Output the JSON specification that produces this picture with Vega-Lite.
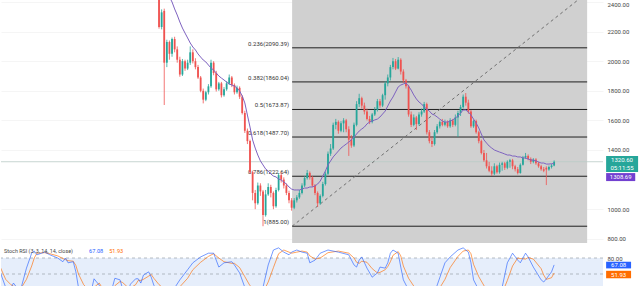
{
"$schema": "https://vega.github.io/schema/vega-lite/v6.json",
"padding": 0,
"background": "white",
"spacing": 1,
"config": {"view": {"stroke": null}, "font": "Roboto"},
"datasets": {
"candles": [
{"t":0,"o":2480,"h":2500,"l":2220,"c":2231},
{"t":1,"o":2231,"h":2350,"l":2215,"c":2330},
{"t":2,"o":2340,"h":2355,"l":1704,"c":1990},
{"t":3,"o":1990,"h":2145,"l":1960,"c":2130},
{"t":4,"o":2130,"h":2140,"l":2010,"c":2050,"ma":2434},
{"t":5,"o":2050,"h":2160,"l":2030,"c":2150,"ma":2400},
{"t":6,"o":2150,"h":2165,"l":2060,"c":2080,"ma":2353},
{"t":7,"o":2080,"h":2100,"l":1990,"c":2010,"ma":2312},
{"t":8,"o":2010,"h":2030,"l":1895,"c":1910,"ma":2265},
{"t":9,"o":1910,"h":2015,"l":1900,"c":2000,"ma":2224},
{"t":10,"o":2000,"h":2010,"l":1935,"c":1950,"ma":2190},
{"t":11,"o":1950,"h":2010,"l":1940,"c":1990,"ma":2157},
{"t":12,"o":1990,"h":2100,"l":1975,"c":2060,"ma":2123},
{"t":13,"o":2060,"h":2080,"l":1985,"c":2000,"ma":2096},
{"t":14,"o":2000,"h":2020,"l":1945,"c":1960,"ma":2076},
{"t":15,"o":1960,"h":1975,"l":1880,"c":1890,"ma":2049},
{"t":16,"o":1890,"h":1900,"l":1790,"c":1800,"ma":2028},
{"t":17,"o":1800,"h":1815,"l":1715,"c":1740,"ma":2008},
{"t":18,"o":1740,"h":1800,"l":1730,"c":1790,"ma":1995},
{"t":19,"o":1790,"h":1845,"l":1775,"c":1830,"ma":1974},
{"t":20,"o":1830,"h":2010,"l":1820,"c":1990,"ma":1954},
{"t":21,"o":1990,"h":2000,"l":1905,"c":1920,"ma":1940},
{"t":22,"o":1920,"h":1935,"l":1795,"c":1810,"ma":1920},
{"t":23,"o":1810,"h":1860,"l":1800,"c":1850,"ma":1900},
{"t":24,"o":1850,"h":1860,"l":1755,"c":1770,"ma":1886},
{"t":25,"o":1770,"h":1825,"l":1760,"c":1810,"ma":1873},
{"t":26,"o":1810,"h":1865,"l":1800,"c":1850,"ma":1859},
{"t":27,"o":1850,"h":1910,"l":1840,"c":1890,"ma":1846},
{"t":28,"o":1890,"h":1900,"l":1825,"c":1840,"ma":1839},
{"t":29,"o":1840,"h":1850,"l":1775,"c":1790,"ma":1832},
{"t":30,"o":1790,"h":1835,"l":1780,"c":1820,"ma":1819},
{"t":31,"o":1820,"h":1830,"l":1745,"c":1760,"ma":1799},
{"t":32,"o":1760,"h":1770,"l":1640,"c":1650,"ma":1765},
{"t":33,"o":1650,"h":1665,"l":1515,"c":1530,"ma":1718},
{"t":34,"o":1530,"h":1545,"l":1440,"c":1460,"ma":1636},
{"t":35,"o":1460,"h":1470,"l":1240,"c":1250,"ma":1555},
{"t":36,"o":1250,"h":1260,"l":1060,"c":1110,"ma":1468},
{"t":37,"o":1110,"h":1130,"l":1000,"c":1040,"ma":1413},
{"t":38,"o":1040,"h":1180,"l":1030,"c":1160,"ma":1366},
{"t":39,"o":1160,"h":1175,"l":1090,"c":1120,"ma":1326},
{"t":40,"o":1120,"h":1130,"l":885,"c":960,"ma":1299},
{"t":41,"o":960,"h":1130,"l":950,"c":1100,"ma":1272},
{"t":42,"o":1100,"h":1175,"l":1090,"c":1150,"ma":1258},
{"t":43,"o":1150,"h":1165,"l":1080,"c":1110,"ma":1238},
{"t":44,"o":1110,"h":1120,"l":1000,"c":1020,"ma":1224},
{"t":45,"o":1020,"h":1145,"l":1010,"c":1130,"ma":1218},
{"t":46,"o":1130,"h":1245,"l":1120,"c":1230,"ma":1204},
{"t":47,"o":1230,"h":1250,"l":1180,"c":1200,"ma":1197},
{"t":48,"o":1200,"h":1215,"l":1140,"c":1160,"ma":1184},
{"t":49,"o":1160,"h":1175,"l":1095,"c":1110,"ma":1170},
{"t":50,"o":1110,"h":1125,"l":1040,"c":1060,"ma":1150},
{"t":51,"o":1060,"h":1075,"l":990,"c":1010,"ma":1136},
{"t":52,"o":1010,"h":1075,"l":1000,"c":1060,"ma":1130},
{"t":53,"o":1060,"h":1095,"l":1045,"c":1080,"ma":1130},
{"t":54,"o":1080,"h":1130,"l":1070,"c":1110,"ma":1130},
{"t":55,"o":1110,"h":1175,"l":1100,"c":1160,"ma":1136},
{"t":56,"o":1160,"h":1225,"l":1150,"c":1210,"ma":1143},
{"t":57,"o":1210,"h":1265,"l":1200,"c":1245,"ma":1143},
{"t":58,"o":1245,"h":1255,"l":1200,"c":1215,"ma":1150},
{"t":59,"o":1215,"h":1225,"l":1150,"c":1160,"ma":1150},
{"t":60,"o":1160,"h":1170,"l":1095,"c":1110,"ma":1157},
{"t":61,"o":1110,"h":1120,"l":1015,"c":1040,"ma":1170},
{"t":62,"o":1040,"h":1100,"l":1030,"c":1090,"ma":1190},
{"t":63,"o":1090,"h":1185,"l":1080,"c":1170,"ma":1224},
{"t":64,"o":1170,"h":1255,"l":1160,"c":1240,"ma":1258},
{"t":65,"o":1240,"h":1390,"l":1230,"c":1375,"ma":1299},
{"t":66,"o":1375,"h":1440,"l":1360,"c":1410,"ma":1326},
{"t":67,"o":1410,"h":1585,"l":1400,"c":1570,"ma":1353},
{"t":68,"o":1570,"h":1610,"l":1540,"c":1590,"ma":1373},
{"t":69,"o":1590,"h":1600,"l":1510,"c":1530,"ma":1393},
{"t":70,"o":1530,"h":1595,"l":1520,"c":1580,"ma":1413},
{"t":71,"o":1580,"h":1615,"l":1520,"c":1600,"ma":1427},
{"t":72,"o":1600,"h":1610,"l":1520,"c":1540,"ma":1440},
{"t":73,"o":1540,"h":1560,"l":1360,"c":1470,"ma":1454},
{"t":74,"o":1470,"h":1500,"l":1415,"c":1430,"ma":1468},
{"t":75,"o":1430,"h":1585,"l":1420,"c":1570,"ma":1488},
{"t":76,"o":1570,"h":1730,"l":1560,"c":1710,"ma":1508},
{"t":77,"o":1710,"h":1780,"l":1690,"c":1750,"ma":1528},
{"t":78,"o":1750,"h":1760,"l":1680,"c":1700,"ma":1542},
{"t":79,"o":1700,"h":1720,"l":1640,"c":1660,"ma":1555},
{"t":80,"o":1660,"h":1680,"l":1600,"c":1610,"ma":1576},
{"t":81,"o":1610,"h":1630,"l":1575,"c":1590,"ma":1589},
{"t":82,"o":1590,"h":1650,"l":1580,"c":1640,"ma":1596},
{"t":83,"o":1640,"h":1690,"l":1630,"c":1670,"ma":1603},
{"t":84,"o":1670,"h":1745,"l":1660,"c":1730,"ma":1609},
{"t":85,"o":1730,"h":1745,"l":1685,"c":1700,"ma":1623},
{"t":86,"o":1700,"h":1780,"l":1690,"c":1770,"ma":1643},
{"t":87,"o":1770,"h":1865,"l":1740,"c":1850,"ma":1663},
{"t":88,"o":1850,"h":1910,"l":1830,"c":1890,"ma":1697},
{"t":89,"o":1890,"h":1975,"l":1870,"c":1960,"ma":1731},
{"t":90,"o":1960,"h":2022,"l":1945,"c":2000,"ma":1758},
{"t":91,"o":2000,"h":2015,"l":1940,"c":1950,"ma":1792},
{"t":92,"o":1950,"h":2028,"l":1945,"c":2010,"ma":1826},
{"t":93,"o":2010,"h":2020,"l":1910,"c":1930,"ma":1839},
{"t":94,"o":1930,"h":1945,"l":1855,"c":1870,"ma":1846},
{"t":95,"o":1870,"h":1880,"l":1815,"c":1830,"ma":1853},
{"t":96,"o":1830,"h":1840,"l":1625,"c":1640,"ma":1832},
{"t":97,"o":1640,"h":1660,"l":1555,"c":1570,"ma":1805},
{"t":98,"o":1570,"h":1640,"l":1560,"c":1620,"ma":1772},
{"t":99,"o":1620,"h":1630,"l":1535,"c":1575,"ma":1745},
{"t":100,"o":1575,"h":1655,"l":1565,"c":1640,"ma":1724},
{"t":101,"o":1640,"h":1680,"l":1625,"c":1660,"ma":1711},
{"t":102,"o":1660,"h":1725,"l":1650,"c":1710,"ma":1690},
{"t":103,"o":1710,"h":1720,"l":1505,"c":1520,"ma":1677},
{"t":104,"o":1520,"h":1535,"l":1445,"c":1460,"ma":1663},
{"t":105,"o":1460,"h":1490,"l":1420,"c":1440,"ma":1643},
{"t":106,"o":1440,"h":1535,"l":1430,"c":1520,"ma":1636},
{"t":107,"o":1520,"h":1575,"l":1510,"c":1560,"ma":1623},
{"t":108,"o":1560,"h":1600,"l":1545,"c":1590,"ma":1609},
{"t":109,"o":1590,"h":1610,"l":1560,"c":1570,"ma":1596},
{"t":110,"o":1570,"h":1605,"l":1560,"c":1590,"ma":1589},
{"t":111,"o":1590,"h":1600,"l":1550,"c":1560,"ma":1589},
{"t":112,"o":1560,"h":1615,"l":1550,"c":1600,"ma":1596},
{"t":113,"o":1600,"h":1610,"l":1555,"c":1570,"ma":1603},
{"t":114,"o":1570,"h":1640,"l":1560,"c":1620,"ma":1616},
{"t":115,"o":1620,"h":1665,"l":1488,"c":1650,"ma":1630},
{"t":116,"o":1650,"h":1705,"l":1630,"c":1690,"ma":1650},
{"t":117,"o":1690,"h":1775,"l":1680,"c":1760,"ma":1670},
{"t":118,"o":1760,"h":1785,"l":1700,"c":1720,"ma":1670},
{"t":119,"o":1720,"h":1740,"l":1645,"c":1660,"ma":1657},
{"t":120,"o":1660,"h":1670,"l":1550,"c":1560,"ma":1636},
{"t":121,"o":1560,"h":1605,"l":1550,"c":1595,"ma":1609},
{"t":122,"o":1595,"h":1605,"l":1510,"c":1520,"ma":1582},
{"t":123,"o":1520,"h":1530,"l":1445,"c":1460,"ma":1549},
{"t":124,"o":1460,"h":1470,"l":1370,"c":1380,"ma":1508},
{"t":125,"o":1380,"h":1400,"l":1320,"c":1330,"ma":1468},
{"t":126,"o":1330,"h":1380,"l":1275,"c":1290,"ma":1447},
{"t":127,"o":1290,"h":1320,"l":1250,"c":1260,"ma":1427},
{"t":128,"o":1260,"h":1290,"l":1225,"c":1240,"ma":1413},
{"t":129,"o":1240,"h":1310,"l":1230,"c":1290,"ma":1400},
{"t":130,"o":1290,"h":1300,"l":1240,"c":1250,"ma":1393},
{"t":131,"o":1250,"h":1315,"l":1240,"c":1300,"ma":1386},
{"t":132,"o":1300,"h":1320,"l":1260,"c":1310,"ma":1380},
{"t":133,"o":1310,"h":1320,"l":1265,"c":1280,"ma":1373},
{"t":134,"o":1280,"h":1330,"l":1270,"c":1320,"ma":1366},
{"t":135,"o":1320,"h":1340,"l":1280,"c":1330,"ma":1366},
{"t":136,"o":1330,"h":1340,"l":1270,"c":1290,"ma":1359},
{"t":137,"o":1290,"h":1300,"l":1255,"c":1270,"ma":1359},
{"t":138,"o":1270,"h":1285,"l":1235,"c":1245,"ma":1353},
{"t":139,"o":1245,"h":1310,"l":1240,"c":1300,"ma":1353},
{"t":140,"o":1300,"h":1360,"l":1295,"c":1350,"ma":1346},
{"t":141,"o":1350,"h":1380,"l":1340,"c":1360,"ma":1346},
{"t":142,"o":1360,"h":1370,"l":1330,"c":1340,"ma":1339},
{"t":143,"o":1340,"h":1350,"l":1305,"c":1320,"ma":1332},
{"t":144,"o":1320,"h":1345,"l":1310,"c":1335,"ma":1332},
{"t":145,"o":1335,"h":1345,"l":1300,"c":1310,"ma":1326},
{"t":146,"o":1310,"h":1320,"l":1280,"c":1290,"ma":1319},
{"t":147,"o":1290,"h":1300,"l":1260,"c":1270,"ma":1312},
{"t":148,"o":1270,"h":1285,"l":1250,"c":1260,"ma":1312},
{"t":149,"o":1280,"h":1290,"l":1163,"c":1268,"ma":1305},
{"t":150,"o":1268,"h":1295,"l":1260,"c":1285,"ma":1305},
{"t":151,"o":1285,"h":1305,"l":1275,"c":1295,"ma":1307},
{"t":152,"o":1295,"h":1330,"l":1290,"c":1320.6,"ma":1308.69}
],
"fib": [
{"p":2090.39,"label":"0.236(2090.39)"},
{"p":1860.04,"label":"0.382(1860.04)"},
{"p":1673.87,"label":"0.5(1673.87)"},
{"p":1487.70,"label":"0.618(1487.70)"},
{"p":1222.64,"label":"0.786(1222.64)"},
{"p":885.00,"label":"1(885.00)"}
],
"trend": [{"t":51.2,"p":885},{"t":164.7,"p":2462.7}],
"stoch": [
{"t":-61,"k":52,"d":62},{"t":-59,"k":25,"d":40},{"t":-57,"k":24,"d":30},{"t":-56,"k":33,"d":27},{"t":-54,"k":20,"d":26},{"t":-53,"k":25,"d":24},{"t":-51,"k":61,"d":40},{"t":-49,"k":89,"d":65},{"t":-48,"k":93,"d":80},{"t":-47,"k":86,"d":89},{"t":-44,"k":91,"d":90},{"t":-42,"k":86,"d":88},{"t":-39,"k":80,"d":84},{"t":-37,"k":73,"d":79},{"t":-36,"k":80,"d":77},{"t":-35,"k":71,"d":75},{"t":-33,"k":73,"d":74},{"t":-32,"k":54,"d":66},{"t":-31,"k":25,"d":50},{"t":-29,"k":10,"d":30},{"t":-26,"k":20,"d":15},{"t":-25,"k":41,"d":25},{"t":-23,"k":29,"d":33},{"t":-22,"k":10,"d":25},{"t":-20,"k":10,"d":15},{"t":-18,"k":24,"d":15},{"t":-17,"k":42,"d":28},{"t":-15,"k":39,"d":36},{"t":-14,"k":22,"d":34},{"t":-12,"k":16,"d":25},{"t":-11,"k":31,"d":24},{"t":-9,"k":41,"d":30},{"t":-8,"k":41,"d":38},{"t":-7,"k":33,"d":38},{"t":-6,"k":48,"d":40},{"t":-4,"k":54,"d":46},{"t":-3,"k":44,"d":49},{"t":-2,"k":29,"d":42},{"t":0,"k":16,"d":30},{"t":3,"k":10,"d":18},{"t":6,"k":24,"d":15},{"t":8,"k":39,"d":26},{"t":11,"k":58,"d":42},{"t":13,"k":71,"d":58},{"t":16,"k":82,"d":72},{"t":19,"k":89,"d":83},{"t":21,"k":89,"d":88},{"t":23,"k":63,"d":80},{"t":25,"k":71,"d":73},{"t":28,"k":73,"d":70},{"t":29,"k":67,"d":70},{"t":31,"k":52,"d":62},{"t":33,"k":25,"d":45},{"t":35,"k":10,"d":28},{"t":38,"k":10,"d":14},{"t":40,"k":25,"d":15},{"t":42,"k":67,"d":35},{"t":44,"k":95,"d":62},{"t":46,"k":99,"d":88},{"t":48,"k":91,"d":95},{"t":50,"k":86,"d":91},{"t":51,"k":91,"d":89},{"t":53,"k":95,"d":91},{"t":55,"k":91,"d":93},{"t":57,"k":89,"d":91},{"t":58,"k":71,"d":84},{"t":60,"k":76,"d":78},{"t":62,"k":89,"d":80},{"t":65,"k":95,"d":90},{"t":69,"k":91,"d":93},{"t":73,"k":86,"d":89},{"t":75,"k":67,"d":80},{"t":76,"k":63,"d":72},{"t":77,"k":76,"d":70},{"t":78,"k":82,"d":74},{"t":80,"k":61,"d":72},{"t":82,"k":44,"d":60},{"t":84,"k":52,"d":52},{"t":85,"k":63,"d":53},{"t":87,"k":61,"d":58},{"t":88,"k":71,"d":64},{"t":89,"k":89,"d":73},{"t":90,"k":95,"d":85},{"t":92,"k":89,"d":92},{"t":93,"k":63,"d":84},{"t":94,"k":39,"d":65},{"t":96,"k":20,"d":42},{"t":99,"k":5,"d":20},{"t":103,"k":5,"d":8},{"t":106,"k":16,"d":9},{"t":107,"k":29,"d":16},{"t":110,"k":71,"d":40},{"t":112,"k":82,"d":62},{"t":115,"k":95,"d":83},{"t":117,"k":99,"d":93},{"t":119,"k":91,"d":95},{"t":120,"k":71,"d":88},{"t":121,"k":39,"d":68},{"t":123,"k":20,"d":45},{"t":126,"k":5,"d":20},{"t":130,"k":10,"d":8},{"t":132,"k":25,"d":14},{"t":134,"k":71,"d":38},{"t":136,"k":89,"d":65},{"t":138,"k":76,"d":80},{"t":139,"k":71,"d":79},{"t":141,"k":89,"d":78},{"t":142,"k":82,"d":81},{"t":144,"k":63,"d":78},{"t":147,"k":39,"d":60},{"t":148,"k":35,"d":48},{"t":149,"k":41,"d":40},{"t":151,"k":54,"d":43},{"t":152,"k":67.08,"d":51.93}
],
"levels": [{"v":80},{"v":50},{"v":20}]
},
"vconcat": [
{
"width": 602, "height": 243,
"encoding": {
  "x": {"type": "quantitative", "scale": {"domain": [-60.8, 170.8], "nice": false, "zero": false}, "axis": null},
  "y": {"type": "quantitative", "scale": {"domain": [771.6, 2413.5], "nice": false, "zero": false},
        "axis": {"orient": "right", "values": [800, 1000, 1400, 1600, 1800, 2000, 2200, 2400], "format": ".2f", "labelPadding": 4, "grid": true, "gridColor": "#f5f5f5", "domain": false, "ticks": false, "labelFontSize": 6, "labelColor": "#444", "labelFont": "Roboto", "title": null, "labelFlush": 3, "labelFlushOffset": 0}}
},
"layer": [
{"data": {"values": [{}]}, "mark": {"type": "rect", "color": "#d0d0d0"},
 "encoding": {"x": {"datum": 51.2}, "x2": {"datum": 164.7}, "y": {"datum": 771.6}, "y2": {"datum": 2413.5}}},
{"data": {"values": [{"p": 1320.6}]}, "mark": {"type": "rule", "color": "#b9cac7", "strokeWidth": 0.8},
 "encoding": {"x": null, "y": {"field": "p"}}},
{"data": {"name": "fib"}, "mark": {"type": "rule", "color": "#1f1f1f", "strokeWidth": 1},
 "encoding": {"x": {"datum": 51.2}, "x2": {"datum": 164.7}, "y": {"field": "p"}}},
{"data": {"name": "fib"}, "mark": {"type": "text", "align": "right", "baseline": "bottom", "dx": -3, "dy": -1, "fontSize": 6, "color": "#333"},
 "encoding": {"x": {"datum": 51.2}, "y": {"field": "p"}, "text": {"field": "label"}}},
{"data": {"name": "trend"}, "mark": {"type": "line", "color": "#6f6f6f", "strokeWidth": 1, "strokeDash": [3, 3], "clip": true},
 "encoding": {"x": {"field": "t"}, "y": {"field": "p"}}},
{"data": {"name": "candles"}, "mark": {"type": "rule", "strokeWidth": 0.8, "clip": true},
 "encoding": {"x": {"field": "t"}, "y": {"field": "l"}, "y2": {"field": "h"},
  "color": {"condition": {"test": "datum.c >= datum.o", "value": "#26a69a"}, "value": "#ef5350"}}},
{"data": {"name": "candles"}, "mark": {"type": "rule", "strokeWidth": 1.8, "clip": true},
 "encoding": {"x": {"field": "t"}, "y": {"field": "o"}, "y2": {"field": "c"},
  "color": {"condition": {"test": "datum.c >= datum.o", "value": "#26a69a"}, "value": "#ef5350"}}},
{"data": {"name": "candles"}, "mark": {"type": "line", "color": "#7e62c0", "strokeWidth": 1, "clip": true},
 "encoding": {"x": {"field": "t"}, "y": {"field": "ma"}}},
{"data": {"values": [{}]}, "mark": {"type": "rect", "color": "#26a69a"},
 "encoding": {"x": {"datum": 172.0}, "x2": {"datum": 184.3}, "y": {"datum": 1359}, "y2": {"datum": 1251}}},
{"data": {"values": [{}]}, "mark": {"type": "rect", "color": "#7240d0"},
 "encoding": {"x": {"datum": 172.0}, "x2": {"datum": 183.2}, "y": {"datum": 1244}, "y2": {"datum": 1190}}},
{"data": {"values": [{"a": "1320.60"}]}, "mark": {"type": "text", "color": "white", "fontSize": 6, "align": "center", "baseline": "middle"},
 "encoding": {"x": {"datum": 178.1}, "y": {"datum": 1330}, "text": {"field": "a"}}},
{"data": {"values": [{"b": "05:11:55"}]}, "mark": {"type": "text", "color": "white", "fontSize": 6, "align": "center", "baseline": "middle"},
 "encoding": {"x": {"datum": 178.1}, "y": {"datum": 1280}, "text": {"field": "b"}}},
{"data": {"values": [{"m": "1308.69"}]}, "mark": {"type": "text", "color": "white", "fontSize": 6, "align": "center", "baseline": "middle"},
 "encoding": {"x": {"datum": 177.6}, "y": {"datum": 1217}, "text": {"field": "m"}}}
]
},
{
"width": 602, "height": 42,
"encoding": {
  "x": {"type": "quantitative", "scale": {"domain": [-60.8, 170.8], "nice": false, "zero": false}, "axis": null},
  "y": {"type": "quantitative", "scale": {"domain": [27.5, 106.25], "nice": false, "zero": false},
        "axis": {"orient": "right", "values": [80], "format": ".2f", "labelPadding": 4, "grid": false, "domain": false, "ticks": false, "labelFontSize": 6, "labelColor": "#444", "labelFont": "Roboto", "title": null}}
},
"layer": [
{"data": {"values": [{}]}, "mark": {"type": "rect", "color": "#e6eefb", "clip": true},
 "encoding": {"x": {"datum": -60.8}, "x2": {"datum": 170.8}, "y": {"datum": 20}, "y2": {"datum": 80}}},
{"data": {"name": "levels"}, "mark": {"type": "rule", "color": "#9aa0aa", "strokeWidth": 0.7, "strokeDash": [3, 3], "clip": true},
 "encoding": {"x": null, "y": {"field": "v"}}},
{"data": {"name": "stoch"}, "mark": {"type": "line", "color": "#ff6d00", "strokeWidth": 0.8, "opacity": 0.8, "clip": true},
 "encoding": {"x": {"field": "t"}, "y": {"field": "d"}}},
{"data": {"name": "stoch"}, "mark": {"type": "line", "color": "#2962ff", "strokeWidth": 0.8, "opacity": 0.8, "clip": true},
 "encoding": {"x": {"field": "t"}, "y": {"field": "k"}}},
{"data": {"values": [{"s": "Stoch RSI (3, 3, 14, 14, close)"}]}, "mark": {"type": "text", "align": "left", "baseline": "middle", "fontSize": 5.4, "color": "#444"},
 "encoding": {"x": {"datum": -59.6}, "y": {"datum": 93}, "text": {"field": "s"}}},
{"data": {"values": [{"s": "67.08"}]}, "mark": {"type": "text", "align": "left", "baseline": "middle", "fontSize": 5.6, "color": "#2962ff"},
 "encoding": {"x": {"datum": -26.9}, "y": {"datum": 93}, "text": {"field": "s"}}},
{"data": {"values": [{"s": "51.93"}]}, "mark": {"type": "text", "align": "left", "baseline": "middle", "fontSize": 5.6, "color": "#ff6d00"},
 "encoding": {"x": {"datum": -19.2}, "y": {"datum": 93}, "text": {"field": "s"}}},
{"data": {"values": [{}]}, "mark": {"type": "rect", "color": "#2962ff"},
 "encoding": {"x": {"datum": 172.0}, "x2": {"datum": 181.6}, "y": {"datum": 73}, "y2": {"datum": 60.5}}},
{"data": {"values": [{}]}, "mark": {"type": "rect", "color": "#ff6d00"},
 "encoding": {"x": {"datum": 172.0}, "x2": {"datum": 181.6}, "y": {"datum": 56}, "y2": {"datum": 42}}},
{"data": {"values": [{"s": "67.08"}]}, "mark": {"type": "text", "align": "center", "baseline": "middle", "fontSize": 6, "color": "white"},
 "encoding": {"x": {"datum": 176.8}, "y": {"datum": 67}, "text": {"field": "s"}}},
{"data": {"values": [{"s": "51.93"}]}, "mark": {"type": "text", "align": "center", "baseline": "middle", "fontSize": 6, "color": "white"},
 "encoding": {"x": {"datum": 176.8}, "y": {"datum": 49}, "text": {"field": "s"}}}
]
}
]
}
